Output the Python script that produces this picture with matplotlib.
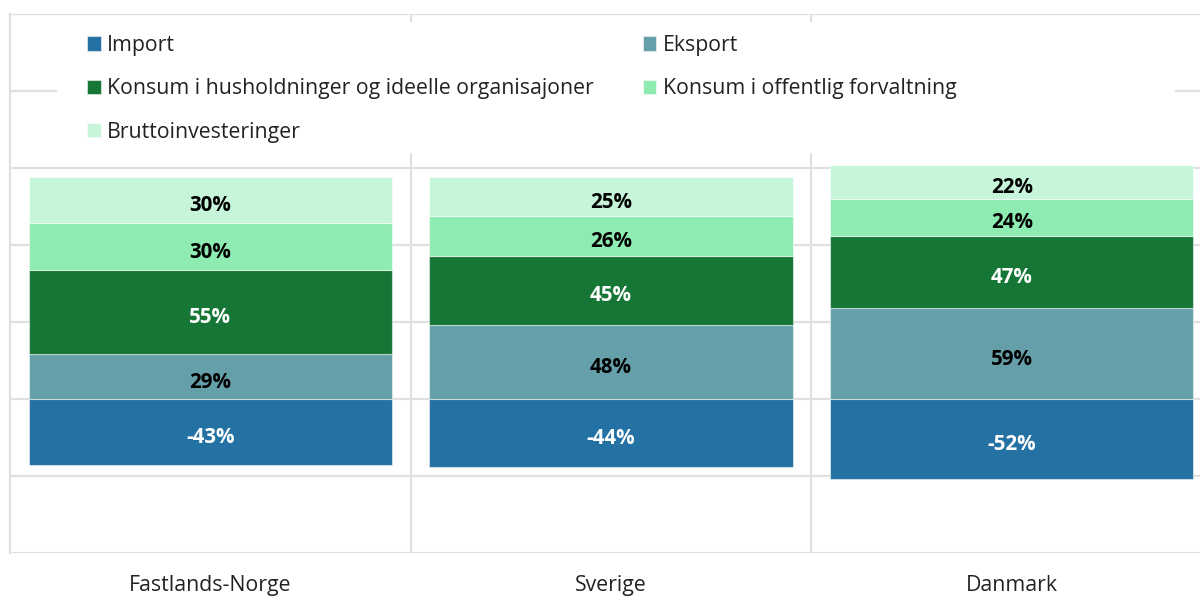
import matplotlib.pyplot as plt
from matplotlib.patches import Rectangle
import numpy as np

plt.rcParams['font.family'] = ['Open Sans', 'DejaVu Sans']
plt.rcParams['font.stretch'] = 'normal'

# data
land = ['Fastlands-Norge', 'Sverige', 'Danmark']
serier = ['Import', 'Eksport', 'Konsum i husholdninger og ideelle organisajoner',
          'Konsum i offentlig forvaltning', 'Bruttoinvesteringer']
importv = [-43, -44, -52]
eksport = [29, 48, 59]
konsum_hush = [55, 45, 47]
konsum_off = [30, 26, 24]
brutto = [30, 25, 22]

farger = ['#2471a3', '#659fa9', '#167636', '#8eebb1', '#c6f5d9']
tekstfarger = ['white', 'black', 'white', 'black', 'black']

fig = plt.figure(figsize=(12, 5.96), dpi=100)
W, H = 1200, 596
ax = fig.add_axes([10 / W, (H - 553) / H, 1202 / W, (553 - 14) / H])

x = np.arange(len(land))
bredde = 0.906
bunn = np.zeros(len(land))
positive = [eksport, konsum_hush, konsum_off, brutto]
fs = 15.3
fs_lab = 14.8


def etikett(xp, yp, tekst, farge):
    ax.annotate(tekst, (xp, yp), xytext=(0, -2.2), textcoords='offset points',
                ha='center', va='center_baseline', color=farge, fontsize=fs_lab,
                fontweight='bold', zorder=4)


handles = []
b = ax.bar(x, importv, bredde, color=farger[0], edgecolor=(1, 1, 1, 0.5),
           linewidth=0.8, zorder=3, label=serier[0])
handles.append(b)
for i, v in enumerate(importv):
    etikett(x[i], v / 2, f'{v}%', tekstfarger[0])

for k, vals in enumerate(positive):
    b = ax.bar(x, vals, bredde, bottom=bunn, color=farger[k + 1],
               edgecolor=(1, 1, 1, 0.5), linewidth=0.8, zorder=3, label=serier[k + 1])
    handles.append(b)
    for i, v in enumerate(vals):
        etikett(x[i], bunn[i] + v / 2, f'{v}%', tekstfarger[k + 1])
    bunn += np.array(vals)

ax.set_xlim(-0.5, 2.5)
ax.set_ylim(-100, 250)
ax.set_yticks(np.arange(-100, 251, 50))
ax.set_yticklabels([])
ax.set_xticks(x)
ax.set_xticklabels(land, fontsize=fs, color='#222222')
ax.set_xticks([0.5, 1.5], minor=True)
ax.tick_params(axis='both', which='both', length=0)
ax.tick_params(axis='x', pad=16)
ax.grid(True, axis='y', color='#e0e0e0', linewidth=1.6, zorder=0)
ax.grid(True, axis='x', which='minor', color='#e0e0e0', linewidth=1.6, zorder=0)
ax.set_axisbelow(True)
for s in ax.spines.values():
    s.set_visible(False)
ax.spines['left'].set_visible(True)
ax.spines['left'].set_color('#e0e0e0')
ax.spines['left'].set_linewidth(1.6)

# white background behind legend
fig.patches.append(Rectangle((57 / W, 1 - 153 / H), (1175 - 57) / W, (153 - 22) / H,
                             transform=fig.transFigure, facecolor='white',
                             edgecolor='none', zorder=5))

# legend filled row by row: Import, Eksport / Konsum hush, Konsum off / Brutto
rekkefolge = [0, 2, 4, 1, 3]
leg = fig.legend(handles=[handles[i] for i in rekkefolge], loc='upper left', ncol=2,
                 bbox_to_anchor=(87 / W, 1 - 35 / H), frameon=False,
                 fontsize=fs, handlelength=0.65, handleheight=0.65,
                 handletextpad=0.29, labelspacing=1.05, columnspacing=2.3,
                 borderpad=0, borderaxespad=0)
for t in leg.get_texts():
    t.set_color('#222222')
leg.set_zorder(6)

fig.savefig('out.png', dpi=100)
